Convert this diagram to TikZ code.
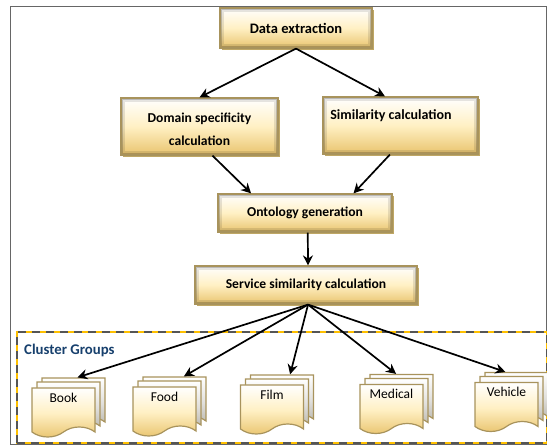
\documentclass[tikz,border=0pt]{standalone}
\usepackage{fontspec}
\setmainfont{Carlito}
\usetikzlibrary{shapes.symbols,shadows,arrows.meta}

\definecolor{boxgold}{HTML}{E9C46E}
\definecolor{boxpale}{HTML}{FFF0C4}
\definecolor{boxedge}{HTML}{A8935C}
\definecolor{boxshadow}{HTML}{BFA765}
\definecolor{sheetgray}{HTML}{B4B1A8}
\definecolor{clusterblue}{HTML}{17406D}
\definecolor{dashyellow}{HTML}{FFC000}
\definecolor{dashgray}{HTML}{555555}

\tikzset{
  glow/.style={path picture={
    \draw[black,opacity=.10,line width=8pt] (path picture bounding box.north west) rectangle (path picture bounding box.south east);
    \draw[black,opacity=.18,line width=4pt] (path picture bounding box.north west) rectangle (path picture bounding box.south east);}},
  stepbox/.style={rectangle,draw=boxedge,line width=1.2pt,top color=white,bottom color=boxgold,middle color=boxpale,
    inner sep=0pt,font=\fontsize{13.6}{23}\selectfont\bfseries,align=center,glow,
    copy shadow={shadow xshift=2pt,shadow yshift=-2pt,fill=boxshadow,draw=none}},
  docsheet/.style={shape=tape,tape bend top=none,tape bend bottom=in and out,tape bend height=10pt,
    draw=boxedge,line width=1.2pt,minimum width=63pt,minimum height=49pt,inner sep=0pt,
    top color=white,bottom color=boxgold,middle color=boxpale,font=\fontsize{13.5}{15}\selectfont},
  backsheet/.style={docsheet,top color=white,bottom color=sheetgray,middle color=sheetgray!40},
  flow/.style={-{Stealth[length=10pt,width=10pt]},line width=1.7pt}
}

\begin{document}
\begin{tikzpicture}[x=1pt,y=-1pt]
\useasboundingbox (0,0) rectangle (547,446);

\node[draw=black!60,line width=1pt,minimum width=536pt,minimum height=438pt,inner sep=0pt] (frame) at (278,226) {};

\node[stepbox,minimum width=152pt,minimum height=40pt,font=\fontsize{14.5}{23}\selectfont\bfseries] (data) at (296,28) {Data extraction};
\node[stepbox,minimum width=157pt,minimum height=57pt] (domain) at (199.5,126.5) {\rule{0pt}{16pt}Domain specificity\\calculation};
\node[stepbox,minimum width=155pt,minimum height=57pt,text depth=22pt,font=\fontsize{14}{23}\selectfont\bfseries] (similarity) at (400.5,125.5) {Similarity calculation\hspace*{19pt}};
\node[stepbox,minimum width=174pt,minimum height=38pt] (ontology) at (305,213) {Ontology generation};
\node[stepbox,minimum width=222pt,minimum height=38pt] (service) at (306,285) {Service similarity calculation};

\node[draw=dashyellow,line width=1.5pt,minimum width=530pt,minimum height=111pt,inner sep=0pt,
      postaction={draw=dashgray,dash pattern=on 8pt off 6pt}] (clusters) at (282,387.5) {};
\node[anchor=west,inner sep=0pt,text=clusterblue,font=\fontsize{14.8}{15}\selectfont\bfseries] (clusterlabel) at (24,350) {Cluster Groups};

% sheets: back, middle, front
\foreach \name/\xpos/\ypos/\txt in {book/63.5/407.5/Book,food/164.5/406.5/Food,film/272/404.5/Film,medical/391.5/404/Medical,vehicle/506.5/402/Vehicle}{
  \node[backsheet] (\name back) at (\xpos+10,\ypos-10) {};
  \node[backsheet] (\name mid) at (\xpos+5,\ypos-6) {};
  \node[docsheet] (\name) at (\xpos,\ypos) {\raisebox{5pt}[0pt][0pt]{\txt}};
}

\draw[flow] (data.south) -- (domain.north);
\draw[flow] (data.south) -- (similarity.118);
\draw[flow] (domain.-66) -- (ontology.160);
\draw[flow] (similarity.-110) -- (ontology.22);
\draw[flow] (ontology.-82) -- (service.84);
\draw[flow] (service.-84) -- (bookback.79);
\draw[flow] (service.-84) -- (foodback.65);
\draw[flow] (service.-84) -- (filmback.68);
\draw[flow] (service.-84) -- (medicalback.105);
\draw[flow] (service.-84) -- (vehicleback.119);

\end{tikzpicture}
\end{document}
